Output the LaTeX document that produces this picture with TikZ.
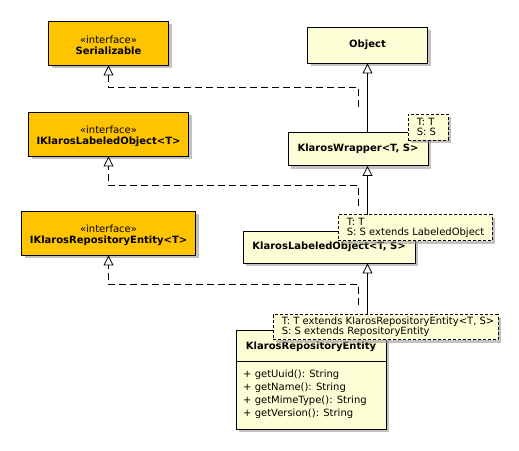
\documentclass[tikz,border=0pt]{standalone}
\usepackage{fontspec}
\setmainfont{DejaVu Sans}
\usetikzlibrary{arrows.meta,shadows}
\definecolor{ifill}{RGB}{255,196,0}
\definecolor{cfill}{RGB}{254,254,214}
\begin{document}
\begin{tikzpicture}[x=1pt,y=-1pt,
  shad/.style={drop shadow={shadow xshift=3pt,shadow yshift=-3pt,fill=black!40,opacity=0.6}},
  ibox/.style={draw=black,line width=0.9pt,fill=ifill,shad,inner sep=0pt},
  itext/.style={inner sep=0pt,align=center,font=\fontsize{10}{11.5}\selectfont},
  cbox/.style={draw=black,line width=0.9pt,fill=cfill,shad,inner sep=0pt,align=center,font=\fontsize{10}{12}\selectfont\bfseries},
  notebox/.style={draw=black,dash pattern=on 3pt off 2pt,line width=0.8pt,fill=cfill,shad,inner sep=0pt},
  notetext/.style={inner sep=0pt,anchor=west,xshift=9pt,align=left,font=\fontsize{10}{10}\selectfont},
  txt/.style={inner sep=0pt,font=\fontsize{10}{13}\selectfont,align=left},
  ext/.style={draw=black,line width=0.9pt,-{Triangle[open,length=10pt,width=10pt,line width=0.8pt]}},
  impl/.style={ext,dash pattern=on 7pt off 4pt}
]
\useasboundingbox (0,0) rectangle (519,450);
% interfaces
\node[ibox,minimum width=120pt,minimum height=44pt] (ser) at (108.5,43) {};
\node[itext] (sert) at (108.5,45.5) {«interface»\\\textbf{Serializable}};
\node[ibox,minimum width=160pt,minimum height=44pt] (ilo) at (108.5,134) {};
\node[itext] (ilot) at (108.5,136.5) {«interface»\\\textbf{IKlarosLabeledObject<T>}};
\node[ibox,minimum width=174pt,minimum height=44pt] (ire) at (108.5,233) {};
\node[itext] (iret) at (108.5,235.5) {«interface»\\\textbf{IKlarosRepositoryEntity<T>}};
% classes
\node[cbox,minimum width=120pt,minimum height=36pt] (ob) at (367.5,45) {Object};
\node[cbox,minimum width=140pt,minimum height=33pt] (kw) at (358,149) {KlarosWrapper<T, S>};
\node[cbox,minimum width=172pt,minimum height=32pt] (klo) at (329,247) {KlarosLabeledObject<T, S>};
\node[cbox,minimum width=150pt,minimum height=99pt] (kre) at (311,379.5) {};
\node[inner sep=0pt,font=\fontsize{10}{12}\selectfont\bfseries] (kret) at (311,347) {KlarosRepositoryEntity};
\coordinate (sep) at (0,361.5);
\draw[line width=0.9pt] (kre.west |- sep) -- (kre.east |- sep);
\node[txt,anchor=north west] (krem) at (243,369.5) {+ getUuid(): String\\+ getName(): String\\+ getMimeType(): String\\+ getVersion(): String};
% generalizations
\draw[ext] (kw.north -| ob.south) -- (ob.south);
\draw[ext] (klo.north -| ob.south) -- (kw.south -| ob.south);
\draw[ext] (kre.north -| ob.south) -- (klo.south -| ob.south);
% realizations
\coordinate (d1) at (358.5,107); \coordinate (h1) at (108.5,87.5);
\coordinate (d2) at (358.5,206); \coordinate (h2) at (108.5,185.5);
\coordinate (d3) at (358.5,305); \coordinate (h3) at (108.5,284.5);
\draw[impl] (d1) |- (h1) -- (ser.south);
\draw[impl] (d2) |- (h2) -- (ilo.south);
\draw[impl] (d3) |- (h3) -- (ire.south);
% template notes
\node[notebox,minimum width=40pt,minimum height=26pt] (n1) at (428,127) {};
\node[notetext] (n1t) at (n1.west) {T: T\\S: S};
\node[notebox,minimum width=154pt,minimum height=26pt] (n2) at (415,227.5) {};
\node[notetext] (n2t) at (n2.west) {T: T\\S: S extends LabeledObject};
\node[notebox,minimum width=225pt,minimum height=25pt] (n3) at (385.5,327) {};
\node[notetext] (n3t) at (n3.west) {T: T extends KlarosRepositoryEntity<T, S>\\S: S extends RepositoryEntity};
\end{tikzpicture}
\end{document}
